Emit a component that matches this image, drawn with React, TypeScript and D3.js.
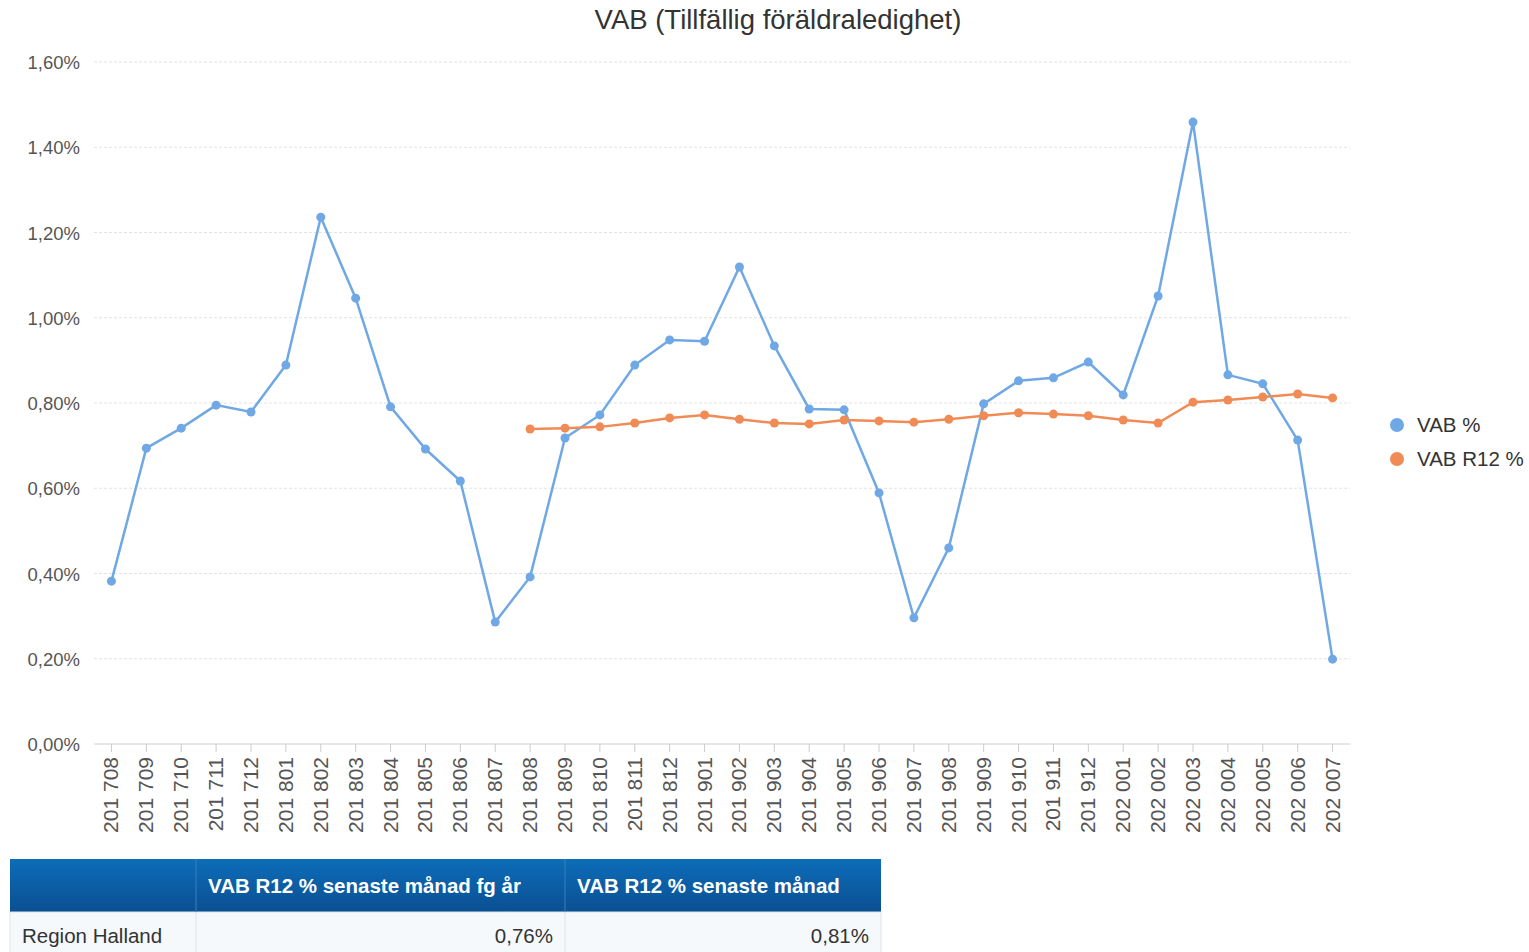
import React, { useEffect, useRef } from 'react';
import * as d3 from 'd3';

// months on the x axis, labelled as in the source ("201 708")
const months = [
  '201708', '201709', '201710', '201711', '201712',
  '201801', '201802', '201803', '201804', '201805', '201806', '201807', '201808', '201809', '201810', '201811', '201812',
  '201901', '201902', '201903', '201904', '201905', '201906', '201907', '201908', '201909', '201910', '201911', '201912',
  '202001', '202002', '202003', '202004', '202005', '202006', '202007',
];

// VAB % per month
const vab = [
  0.382, 0.694, 0.741, 0.795, 0.779,
  0.889, 1.236, 1.046, 0.791, 0.692, 0.617, 0.286, 0.392, 0.718, 0.772, 0.889, 0.948,
  0.945, 1.119, 0.934, 0.786, 0.784, 0.589, 0.296, 0.460, 0.798, 0.852, 0.859, 0.896,
  0.819, 1.051, 1.459, 0.866, 0.845, 0.713, 0.199,
];

// VAB R12 % (rolling 12), starts at 201808
const r12Months = months.slice(12);
const vabR12 = [
  0.739, 0.741, 0.744, 0.753, 0.765,
  0.772, 0.762, 0.753, 0.751, 0.760, 0.758, 0.755, 0.762, 0.770, 0.777, 0.774, 0.770,
  0.760, 0.753, 0.802, 0.807, 0.814, 0.821, 0.812,
];

const yTicks = [0, 0.2, 0.4, 0.6, 0.8, 1.0, 1.2, 1.4, 1.6];

const tableHeaders = ['', 'VAB R12 % senaste månad fg år', 'VAB R12 % senaste månad'];
const tableRow = ['Region Halland', '0,76%', '0,81%'];

const BLUE = '#6fa8e4';
const ORANGE = '#f08b55';
const FONT = '"Liberation Sans", Arial, sans-serif';

const fmt = (v: number) => v.toFixed(2).replace('.', ',') + '%';
const monthLabel = (m: string) => m.slice(0, 3) + ' ' + m.slice(3);

export default function App() {
  const svgRef = useRef<SVGSVGElement>(null);

  useEffect(() => {
    const svg = d3.select(svgRef.current);
    svg.selectAll('*').remove();

    const left = 94, right = 1350, top = 62, bottom = 744;

    const x = d3.scalePoint<string>().domain(months).range([left, right]).padding(0.5);
    const y = d3.scaleLinear().domain([0, 1.6]).range([bottom, top]);

    // title
    svg.append('text')
      .attr('x', 778).attr('y', 29)
      .attr('text-anchor', 'middle')
      .attr('font-family', FONT).attr('font-size', 27.5)
      .attr('fill', '#333')
      .text('VAB (Tillfällig föräldraledighet)');

    // grid + y labels
    yTicks.forEach(t => {
      if (t > 0) {
        svg.append('line')
          .attr('x1', left).attr('x2', right)
          .attr('y1', y(t)).attr('y2', y(t))
          .attr('stroke', '#e2e2e2')
          .attr('stroke-dasharray', '3,2');
      }
      svg.append('text')
        .attr('x', 80).attr('y', y(t) + 7)
        .attr('text-anchor', 'end')
        .attr('font-family', FONT).attr('font-size', 18.5)
        .attr('fill', '#555')
        .text(fmt(t));
    });

    // x axis
    svg.append('line')
      .attr('x1', left).attr('x2', right)
      .attr('y1', bottom).attr('y2', bottom)
      .attr('stroke', '#ccc');

    months.forEach(m => {
      svg.append('line')
        .attr('x1', x(m)!).attr('x2', x(m)!)
        .attr('y1', bottom).attr('y2', bottom + 8)
        .attr('stroke', '#ccc');
      svg.append('text')
        .attr('transform', `translate(${x(m)! + 7},${bottom + 13}) rotate(-90)`)
        .attr('text-anchor', 'end')
        .attr('font-family', FONT).attr('font-size', 21)
        .attr('fill', '#555')
        .text(monthLabel(m));
    });

    const line = d3.line<[string, number]>()
      .x(d => x(d[0])!)
      .y(d => y(d[1]));

    const series = [
      { data: months.map((m, i) => [m, vab[i]] as [string, number]), color: BLUE },
      { data: r12Months.map((m, i) => [m, vabR12[i]] as [string, number]), color: ORANGE },
    ];

    series.forEach(s => {
      svg.append('path')
        .datum(s.data)
        .attr('d', line)
        .attr('fill', 'none')
        .attr('stroke', s.color)
        .attr('stroke-width', 2.5);
      svg.append('g').selectAll('circle')
        .data(s.data)
        .enter()
        .append('circle')
        .attr('cx', d => x(d[0])!)
        .attr('cy', d => y(d[1]))
        .attr('r', 4.5)
        .attr('fill', s.color);
    });

    // legend
    const legend = [{ label: 'VAB %', color: BLUE }, { label: 'VAB R12 %', color: ORANGE }];
    legend.forEach((l, i) => {
      const ly = 425 + i * 34;
      svg.append('circle').attr('cx', 1397).attr('cy', ly).attr('r', 7).attr('fill', l.color);
      svg.append('text')
        .attr('x', 1417).attr('y', ly + 7)
        .attr('font-family', FONT).attr('font-size', 20.5)
        .attr('fill', '#333')
        .text(l.label);
    });

    // table
    const defs = svg.append('defs');
    const grad = defs.append('linearGradient').attr('id', 'hdr').attr('x1', 0).attr('y1', 0).attr('x2', 0).attr('y2', 1);
    grad.append('stop').attr('offset', '0%').attr('stop-color', '#0d6db8');
    grad.append('stop').attr('offset', '100%').attr('stop-color', '#0a4f92');

    const cols = [10, 196, 565, 881];
    const hTop = 859, hBot = 912, rBot = 960;

    svg.append('rect')
      .attr('x', cols[0]).attr('y', hTop)
      .attr('width', cols[3] - cols[0]).attr('height', hBot - hTop)
      .attr('fill', 'url(#hdr)');
    svg.append('rect')
      .attr('x', cols[0]).attr('y', hBot)
      .attr('width', cols[3] - cols[0]).attr('height', rBot - hBot)
      .attr('fill', '#f6f9fc')
      .attr('stroke', '#dde3ea');

    [1, 2].forEach(c => {
      svg.append('line')
        .attr('x1', cols[c]).attr('x2', cols[c])
        .attr('y1', hTop).attr('y2', hBot)
        .attr('stroke', '#3b7fbf').attr('stroke-width', 1);
      svg.append('line')
        .attr('x1', cols[c]).attr('x2', cols[c])
        .attr('y1', hBot).attr('y2', rBot)
        .attr('stroke', '#dde3ea');
    });

    tableHeaders.forEach((h, i) => {
      if (!h) return;
      svg.append('text')
        .attr('x', cols[i] + 12).attr('y', 893)
        .attr('font-family', FONT).attr('font-size', 20.5)
        .attr('font-weight', 'bold')
        .attr('fill', '#fff')
        .text(h);
    });

    tableRow.forEach((v, i) => {
      svg.append('text')
        .attr('x', i === 0 ? cols[0] + 12 : cols[i + 1] - 12)
        .attr('y', 943)
        .attr('text-anchor', i === 0 ? 'start' : 'end')
        .attr('font-family', FONT).attr('font-size', 20.5)
        .attr('fill', '#333')
        .text(v);
    });
  }, []);

  return (
    <div style={{ position: 'fixed', left: 0, top: 0 }}>
      <svg ref={svgRef} width={1529} height={952} style={{ display: 'block', background: '#fff' }} />
    </div>
  );
}
